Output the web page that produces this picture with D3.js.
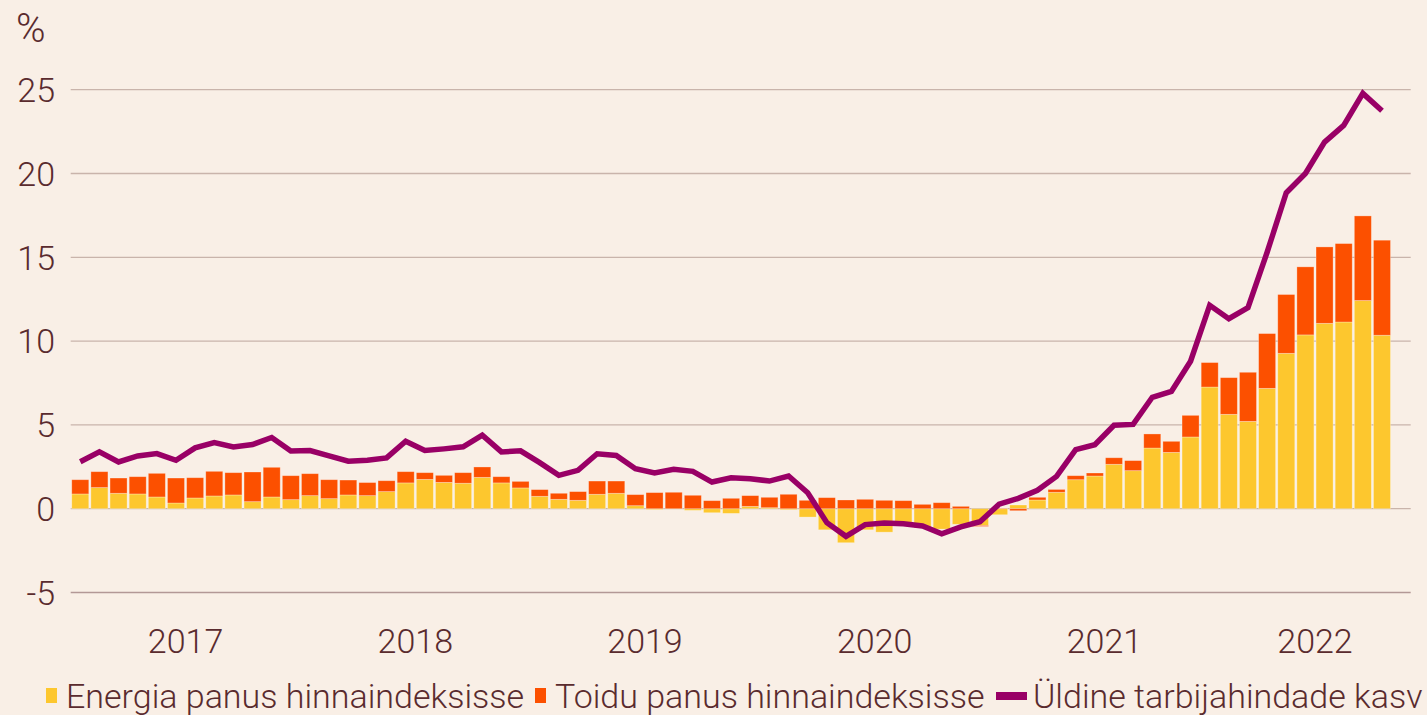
<!DOCTYPE html>
<html>
<head>
<meta charset="utf-8">
<script src="https://cdn.jsdelivr.net/npm/d3@7"></script>
<style>
  html, body { margin: 0; padding: 0; background: #f9efe6; }
  svg { display: block; font-family: Roboto, "Noto Sans", sans-serif; }
</style>
</head>
<body>
<svg id="chart" width="1427" height="715"></svg>
<script>
// ---- Data (Jan 2017 – Sep 2022; Oct 2022 slot left empty) ----
const months = d3.timeMonths(new Date(2017, 0, 1), new Date(2022, 10, 1)).map(d3.timeFormat("%Y-%m"));
const yearLabels = ["2017", "2018", "2019", "2020", "2021", "2022"];
const yTicks = [-5, 0, 5, 10, 15, 20, 25];

const energy = [
  0.88, 1.26, 0.92, 0.88, 0.70, 0.34, 0.64, 0.76, 0.82, 0.42, 0.70, 0.54,
  0.78, 0.60, 0.82, 0.78, 1.02, 1.54, 1.75, 1.57, 1.52, 1.87, 1.54, 1.24,
  0.74, 0.56, 0.50, 0.86, 0.92, 0.18, -0.05, -0.02, -0.10, -0.24, -0.28, 0.14,
  0.06, -0.06, -0.50, -1.26, -2.03, -1.26, -1.40, -0.95, -1.15, -1.22, -0.93, -1.00,
  -0.36, 0.22, 0.52, 0.98, 1.73, 1.95, 2.65, 2.27, 3.62, 3.36, 4.28, 7.26,
  5.63, 5.21, 7.18, 9.27, 10.37, 11.06, 11.14, 12.42, 10.35
];
const food = [
  0.85, 0.95, 0.91, 1.03, 1.41, 1.49, 1.21, 1.47, 1.33, 1.77, 1.77, 1.43,
  1.31, 1.13, 0.89, 0.78, 0.65, 0.67, 0.40, 0.42, 0.63, 0.62, 0.37, 0.39,
  0.40, 0.36, 0.52, 0.79, 0.73, 0.66, 0.96, 0.98, 0.80, 0.48, 0.62, 0.64,
  0.62, 0.86, 0.50, 0.66, 0.52, 0.56, 0.50, 0.48, 0.26, 0.36, 0.14, -0.06,
  0.02, -0.12, 0.16, 0.17, 0.24, 0.18, 0.39, 0.60, 0.84, 0.66, 1.29, 1.46,
  2.19, 2.93, 3.27, 3.51, 4.06, 4.56, 4.68, 5.05, 5.67
];
const cpi = [
  2.80, 3.39, 2.79, 3.15, 3.29, 2.89, 3.63, 3.95, 3.69, 3.83, 4.25, 3.45,
  3.47, 3.15, 2.83, 2.89, 3.03, 4.03, 3.47, 3.57, 3.69, 4.39, 3.39, 3.45,
  2.75, 1.99, 2.29, 3.28, 3.18, 2.39, 2.13, 2.35, 2.23, 1.59, 1.85, 1.79,
  1.65, 1.95, 0.95, -0.83, -1.65, -0.95, -0.86, -0.90, -1.03, -1.50, -1.08, -0.78,
  0.27, 0.62, 1.10, 1.93, 3.52, 3.82, 4.98, 5.03, 6.65, 7.00, 8.80, 12.14,
  11.34, 12.00, 15.30, 18.85, 20.00, 21.87, 22.87, 24.78, 23.74
];
const seriesNames = ["Energia panus hinnaindeksisse", "Toidu panus hinnaindeksisse", "Üldine tarbijahindade kasv"];
const colors = ["#fdc72e", "#fc5000", "#990066"];

// ---- Layout ----
const svg = d3.select("#chart");
const W = 1427, H = 715;
svg.append("rect").attr("width", W).attr("height", H).attr("fill", "#f9efe6");

const x = d3.scaleBand().domain(months).range([70.7, 1410.7]).paddingInner(0.11).paddingOuter(0.055);
const y = d3.scaleLinear().domain([-5, 25]).range([592.5, 89.7]);

const textColor = "#5a2b2e";

// gridlines
svg.append("g").selectAll("line").data(yTicks).join("line")
  .attr("x1", 70.7).attr("x2", 1410.7)
  .attr("y1", d => y(d)).attr("y2", d => y(d))
  .attr("stroke", d => d === -5 ? "#b39896" : "#c9b4ab")
  .attr("stroke-width", 1.3);

// y labels
svg.append("g").selectAll("text").data(yTicks).join("text")
  .attr("x", 55).attr("y", d => y(d))
  .attr("dy", "0.36em")
  .attr("text-anchor", "end")
  .attr("font-size", 34).attr("font-weight", 300)
  .attr("fill", textColor)
  .text(d => d);

svg.append("text").attr("x", 16).attr("y", 42)
  .attr("font-size", 40).attr("font-weight", 300).attr("fill", textColor).text("%");

// stacked bars
const table = months.slice(0, energy.length).map((m, i) => ({ month: m, energy: energy[i], food: food[i] }));
const stack = d3.stack().keys(["energy", "food"]).offset(d3.stackOffsetDiverging);
const stacked = stack(table);

svg.append("g").selectAll("g").data(stacked).join("g")
  .attr("fill", (d, i) => colors[i])
  .selectAll("rect").data(d => d).join("rect")
  .attr("x", d => x(d.data.month))
  .attr("width", x.bandwidth())
  .attr("y", d => y(Math.max(d[0], d[1])))
  .attr("height", d => Math.abs(y(d[0]) - y(d[1])))
  .attr("stroke", "#ffffff").attr("stroke-opacity", 0.35).attr("stroke-width", 0.8);

// line
const line = d3.line()
  .x((d, i) => x(months[i]) + x.bandwidth() / 2)
  .y(d => y(d));
svg.append("path").datum(cpi)
  .attr("d", line)
  .attr("fill", "none")
  .attr("stroke", colors[2])
  .attr("stroke-width", 5.5)
  .attr("stroke-linejoin", "miter");

// year labels centred on each year's months within the domain
const gap = x.step() - x.bandwidth();
svg.append("g").selectAll("text").data(yearLabels).join("text")
  .attr("x", yr => {
    const ms = months.filter(m => m.startsWith(yr));
    const x0 = x(ms[0]) - gap / 2;
    const x1 = x(ms[ms.length - 1]) + x.bandwidth() + gap / 2;
    return (x0 + x1) / 2;
  })
  .attr("y", 653)
  .attr("text-anchor", "middle")
  .attr("font-size", 34).attr("font-weight", 300)
  .attr("fill", textColor)
  .text(d => d);

// legend
const legend = svg.append("g");
const legendItems = [
  { name: seriesNames[0], color: colors[0], type: "rect", mx: 46, tx: 66 },
  { name: seriesNames[1], color: colors[1], type: "rect", mx: 535, tx: 555 },
  { name: seriesNames[2], color: colors[2], type: "line", mx: 996, tx: 1033 }
];
legendItems.forEach(it => {
  if (it.type === "rect") {
    legend.append("rect").attr("x", it.mx).attr("y", 688).attr("width", 11).attr("height", 15).attr("fill", it.color);
  } else {
    legend.append("rect").attr("x", it.mx).attr("y", 692).attr("width", 31).attr("height", 8).attr("fill", it.color);
  }
  legend.append("text").attr("x", it.tx).attr("y", 708)
    .attr("font-size", 34).attr("font-weight", 300)
    .attr("fill", textColor).text(it.name);
});
</script>
</body>
</html>
